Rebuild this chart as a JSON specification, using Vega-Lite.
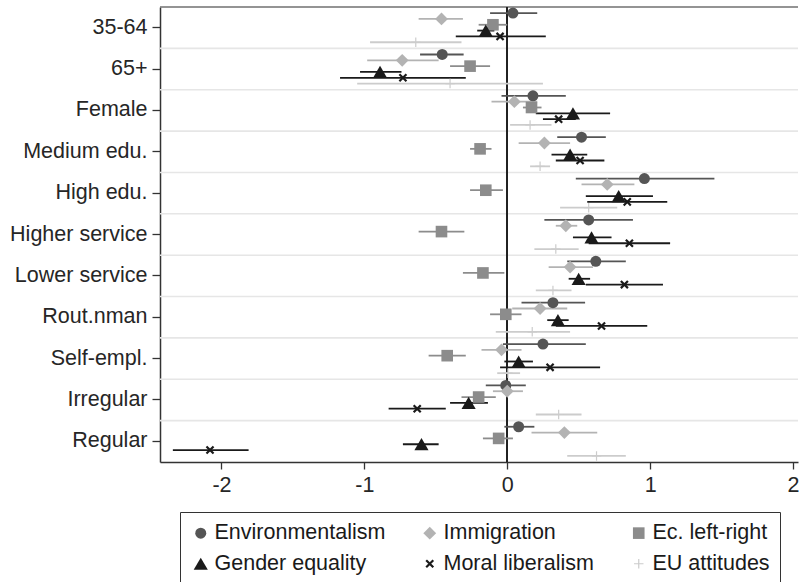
{
  "$schema": "https://vega.github.io/schema/vega-lite/v6.json",
  "autosize": {"type": "none"},
  "width": 638,
  "height": 455,
  "padding": {"left": 160, "top": 7, "right": 1, "bottom": 120},
  "background": "white",
  "config": {
    "font": "Liberation Sans",
    "view": {"stroke": null},
    "axis": {"labelFont": "Liberation Sans", "labelFontSize": 21.5, "labelColor": "#262626", "domainColor": "#333333", "domainWidth": 1.5, "tickColor": "#333333", "tickWidth": 1.3, "grid": false, "title": null}
  },
  "datasets": {
    "cats": [
      {"cat": "35-64"}, {"cat": "65+"}, {"cat": "Female"}, {"cat": "Medium edu."}, {"cat": "High edu."}, {"cat": "Higher service"}, {"cat": "Lower service"}, {"cat": "Rout.nman"}, {"cat": "Self-empl."}, {"cat": "Irregular"}, {"cat": "Regular"}
    ],
    "est": [
      {"cat": "35-64", "s": "Environmentalism", "b": 0.04, "lo": -0.12, "hi": 0.21},
      {"cat": "35-64", "s": "Immigration", "b": -0.46, "lo": -0.62, "hi": -0.31},
      {"cat": "35-64", "s": "Ec. left-right", "b": -0.10, "lo": -0.20, "hi": 0.00},
      {"cat": "35-64", "s": "Gender equality", "b": -0.15, "lo": -0.21, "hi": -0.09},
      {"cat": "35-64", "s": "Moral liberalism", "b": -0.05, "lo": -0.36, "hi": 0.27},
      {"cat": "35-64", "s": "EU attitudes", "b": -0.64, "lo": -0.96, "hi": -0.32},
      {"cat": "65+", "s": "Environmentalism", "b": -0.455, "lo": -0.61, "hi": -0.305},
      {"cat": "65+", "s": "Immigration", "b": -0.735, "lo": -0.98, "hi": -0.48},
      {"cat": "65+", "s": "Ec. left-right", "b": -0.26, "lo": -0.40, "hi": -0.12},
      {"cat": "65+", "s": "Gender equality", "b": -0.89, "lo": -1.03, "hi": -0.74},
      {"cat": "65+", "s": "Moral liberalism", "b": -0.73, "lo": -1.17, "hi": -0.29},
      {"cat": "65+", "s": "EU attitudes", "b": -0.40, "lo": -1.05, "hi": 0.25},
      {"cat": "Female", "s": "Environmentalism", "b": 0.18, "lo": -0.04, "hi": 0.41},
      {"cat": "Female", "s": "Immigration", "b": 0.05, "lo": -0.11, "hi": 0.21},
      {"cat": "Female", "s": "Ec. left-right", "b": 0.17, "lo": 0.11, "hi": 0.24},
      {"cat": "Female", "s": "Gender equality", "b": 0.46, "lo": 0.20, "hi": 0.72},
      {"cat": "Female", "s": "Moral liberalism", "b": 0.36, "lo": 0.25, "hi": 0.48},
      {"cat": "Female", "s": "EU attitudes", "b": 0.16, "lo": 0.02, "hi": 0.31},
      {"cat": "Medium edu.", "s": "Environmentalism", "b": 0.52, "lo": 0.35, "hi": 0.69},
      {"cat": "Medium edu.", "s": "Immigration", "b": 0.26, "lo": 0.08, "hi": 0.44},
      {"cat": "Medium edu.", "s": "Ec. left-right", "b": -0.19, "lo": -0.26, "hi": -0.11},
      {"cat": "Medium edu.", "s": "Gender equality", "b": 0.44, "lo": 0.31, "hi": 0.56},
      {"cat": "Medium edu.", "s": "Moral liberalism", "b": 0.51, "lo": 0.34, "hi": 0.68},
      {"cat": "Medium edu.", "s": "EU attitudes", "b": 0.23, "lo": 0.16, "hi": 0.30},
      {"cat": "High edu.", "s": "Environmentalism", "b": 0.96, "lo": 0.48, "hi": 1.45},
      {"cat": "High edu.", "s": "Immigration", "b": 0.70, "lo": 0.52, "hi": 0.89},
      {"cat": "High edu.", "s": "Ec. left-right", "b": -0.15, "lo": -0.26, "hi": -0.03},
      {"cat": "High edu.", "s": "Gender equality", "b": 0.78, "lo": 0.55, "hi": 1.02},
      {"cat": "High edu.", "s": "Moral liberalism", "b": 0.84, "lo": 0.56, "hi": 1.12},
      {"cat": "High edu.", "s": "EU attitudes", "b": 0.57, "lo": 0.37, "hi": 0.77},
      {"cat": "Higher service", "s": "Environmentalism", "b": 0.57, "lo": 0.26, "hi": 0.88},
      {"cat": "Higher service", "s": "Immigration", "b": 0.41, "lo": 0.34, "hi": 0.49},
      {"cat": "Higher service", "s": "Ec. left-right", "b": -0.46, "lo": -0.62, "hi": -0.30},
      {"cat": "Higher service", "s": "Gender equality", "b": 0.59, "lo": 0.46, "hi": 0.73},
      {"cat": "Higher service", "s": "Moral liberalism", "b": 0.855, "lo": 0.57, "hi": 1.14},
      {"cat": "Higher service", "s": "EU attitudes", "b": 0.34, "lo": 0.19, "hi": 0.50},
      {"cat": "Lower service", "s": "Environmentalism", "b": 0.62, "lo": 0.42, "hi": 0.83},
      {"cat": "Lower service", "s": "Immigration", "b": 0.44, "lo": 0.29, "hi": 0.60},
      {"cat": "Lower service", "s": "Ec. left-right", "b": -0.17, "lo": -0.31, "hi": -0.02},
      {"cat": "Lower service", "s": "Gender equality", "b": 0.50, "lo": 0.43, "hi": 0.58},
      {"cat": "Lower service", "s": "Moral liberalism", "b": 0.82, "lo": 0.55, "hi": 1.09},
      {"cat": "Lower service", "s": "EU attitudes", "b": 0.32, "lo": 0.20, "hi": 0.45},
      {"cat": "Rout.nman", "s": "Environmentalism", "b": 0.32, "lo": 0.10, "hi": 0.545},
      {"cat": "Rout.nman", "s": "Immigration", "b": 0.23, "lo": 0.035, "hi": 0.42},
      {"cat": "Rout.nman", "s": "Ec. left-right", "b": -0.01, "lo": -0.12, "hi": 0.10},
      {"cat": "Rout.nman", "s": "Gender equality", "b": 0.355, "lo": 0.28, "hi": 0.43},
      {"cat": "Rout.nman", "s": "Moral liberalism", "b": 0.66, "lo": 0.34, "hi": 0.98},
      {"cat": "Rout.nman", "s": "EU attitudes", "b": 0.175, "lo": -0.08, "hi": 0.44},
      {"cat": "Self-empl.", "s": "Environmentalism", "b": 0.25, "lo": -0.03, "hi": 0.55},
      {"cat": "Self-empl.", "s": "Immigration", "b": -0.04, "lo": -0.18, "hi": 0.10},
      {"cat": "Self-empl.", "s": "Ec. left-right", "b": -0.42, "lo": -0.55, "hi": -0.29},
      {"cat": "Self-empl.", "s": "Gender equality", "b": 0.08, "lo": -0.02, "hi": 0.18},
      {"cat": "Self-empl.", "s": "Moral liberalism", "b": 0.30, "lo": -0.05, "hi": 0.65},
      {"cat": "Self-empl.", "s": "EU attitudes", "b": 0.005, "lo": -0.07, "hi": 0.09},
      {"cat": "Irregular", "s": "Environmentalism", "b": -0.01, "lo": -0.15, "hi": 0.13},
      {"cat": "Irregular", "s": "Immigration", "b": 0.0, "lo": -0.10, "hi": 0.11},
      {"cat": "Irregular", "s": "Ec. left-right", "b": -0.20, "lo": -0.32, "hi": -0.08},
      {"cat": "Irregular", "s": "Gender equality", "b": -0.27, "lo": -0.40, "hi": -0.135},
      {"cat": "Irregular", "s": "Moral liberalism", "b": -0.63, "lo": -0.83, "hi": -0.43},
      {"cat": "Irregular", "s": "EU attitudes", "b": 0.36, "lo": 0.20, "hi": 0.52},
      {"cat": "Regular", "s": "Environmentalism", "b": 0.08, "lo": -0.02, "hi": 0.19},
      {"cat": "Regular", "s": "Immigration", "b": 0.40, "lo": 0.17, "hi": 0.63},
      {"cat": "Regular", "s": "Ec. left-right", "b": -0.06, "lo": -0.17, "hi": 0.04},
      {"cat": "Regular", "s": "Gender equality", "b": -0.60, "lo": -0.73, "hi": -0.48},
      {"cat": "Regular", "s": "Moral liberalism", "b": -2.08, "lo": -2.34, "hi": -1.81},
      {"cat": "Regular", "s": "EU attitudes", "b": 0.625, "lo": 0.42, "hi": 0.83}
    ]
  },
  "layer": [
    {
      "data": {"name": "cats"},
      "mark": {"type": "rule", "strokeWidth": 1.6},
      "encoding": {
        "y": {"field": "cat", "type": "nominal", "bandPosition": 0, "sort": null, "scale": {"paddingInner": 0, "paddingOuter": 0},
          "axis": {"tickSize": 8, "labelPadding": 5, "labelLimit": 200, "labelFontSize": 21.5, "bandPosition": 0.5}},
        "color": {"condition": {"test": "datum.cat === '35-64'", "value": "#707070"}, "value": "#e6e6e6"}
      }
    },
    {
      "data": {"name": "cats"},
      "mark": {"type": "rule", "color": "#222222", "strokeWidth": 1.5},
      "encoding": {
        "x": {"datum": 0, "type": "quantitative"}
      }
    },
    {
      "data": {"name": "est"},
      "mark": {"type": "rule", "strokeWidth": 1.8},
      "encoding": {
        "x": {"field": "lo", "type": "quantitative", "scale": {"domain": [-2.43, 2.035], "nice": false, "zero": false},
          "axis": {"values": [-2, -1, 0, 1, 2], "labelExpr": "'' + datum.value", "labelFlush": false, "tickSize": 7, "labelPadding": 5, "labelFontSize": 21.5}},
        "x2": {"field": "hi"},
        "y": {"field": "cat", "type": "nominal", "sort": null},
        "yOffset": {"field": "s", "type": "nominal", "sort": null, "scale": {"paddingInner": 0, "paddingOuter": 0.55}},
        "stroke": {"field": "s", "type": "nominal"}
      }
    },
    {
      "data": {"name": "est"},
      "mark": {"type": "point", "filled": true, "opacity": 1},
      "encoding": {
        "x": {"field": "b", "type": "quantitative"},
        "y": {"field": "cat", "type": "nominal", "sort": null},
        "yOffset": {"field": "s", "type": "nominal", "sort": null},
        "color": {"field": "s", "type": "nominal",
          "scale": {"domain": ["Environmentalism", "Immigration", "Ec. left-right", "Gender equality", "Moral liberalism", "EU attitudes"],
            "range": ["#555555", "#b3b3b3", "#8c8c8c", "#1a1a1a", "#1a1a1a", "#cccccc"]},
          "legend": {"title": null, "orient": "none", "legendX": 20, "legendY": 505, "columns": 3, "direction": "horizontal",
            "padding": 10, "rowPadding": 8, "columnPadding": 33, "labelOffset": 3, "labelFontSize": 21.5, "labelFont": "Liberation Sans", "labelColor": "#1a1a1a",
            "symbolSize": 110, "symbolStrokeWidth": 1.5, "strokeColor": "#333333", "fillColor": "white", "labelLimit": 300}},
        "stroke": {"field": "s", "type": "nominal",
          "scale": {"domain": ["Environmentalism", "Immigration", "Ec. left-right", "Gender equality", "Moral liberalism", "EU attitudes"],
            "range": ["#555555", "#b3b3b3", "#8c8c8c", "#1a1a1a", "#1a1a1a", "#cccccc"]}},
        "shape": {"field": "s", "type": "nominal",
          "scale": {"domain": ["Environmentalism", "Immigration", "Ec. left-right", "Gender equality", "Moral liberalism", "EU attitudes"],
            "range": ["circle", "diamond", "square", "triangle-up", "M-1,-1L1,1M-1,1L1,-1", "M-1,0L1,0M0,-1L0,1"]}},
        "size": {"field": "s", "type": "nominal", "legend": null,
          "scale": {"type": "ordinal", "domain": ["Environmentalism", "Immigration", "Ec. left-right", "Gender equality", "Moral liberalism", "EU attitudes"],
            "range": [121, 165, 135, 200, 50, 90]}},
        "strokeWidth": {"field": "s", "type": "nominal", "legend": null,
          "scale": {"type": "ordinal", "domain": ["Environmentalism", "Immigration", "Ec. left-right", "Gender equality", "Moral liberalism", "EU attitudes"],
            "range": [0.01, 0.01, 0.01, 0.01, 2.2, 1.2]}}
      }
    }
  ]
}
